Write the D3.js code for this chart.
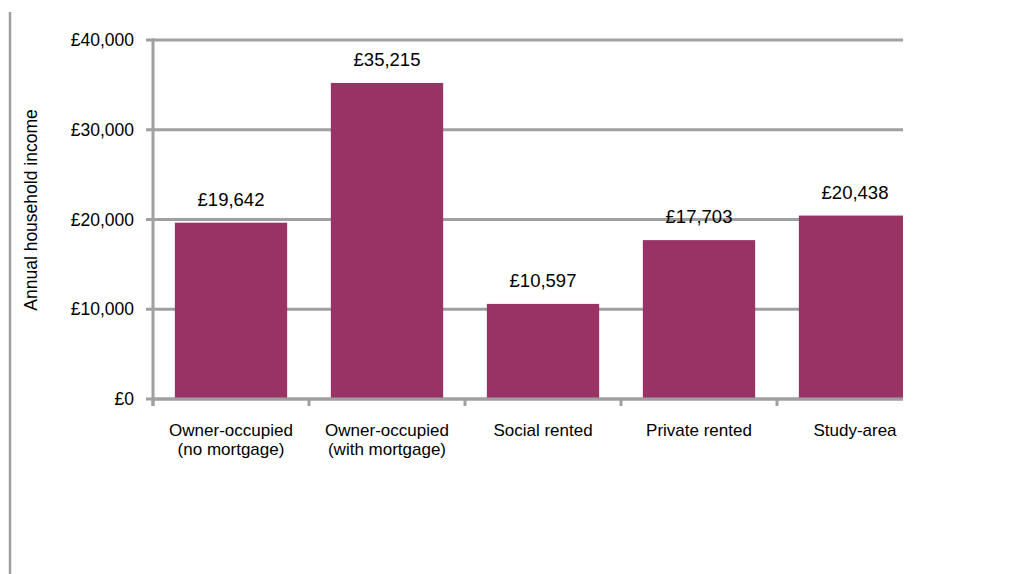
<!DOCTYPE html>
<html><head><meta charset="utf-8">
<script src="https://cdn.jsdelivr.net/npm/d3@7"></script>
<style>body{margin:0;background:#fff}svg{display:block}text{font-family:"Liberation Sans",Arial,sans-serif;fill:#000}</style>
</head><body>
<svg id="c" width="1011" height="574"></svg>
<script>
const categories = [["Owner-occupied","(no mortgage)"],["Owner-occupied","(with mortgage)"],["Social rented"],["Private rented"],["Study-area"]];
const values = [19642, 35215, 10597, 17703, 20438];
const yTicks = [0, 10000, 20000, 30000, 40000];
const yTitle = "Annual household income";

(function(){
const svg = d3.select("#c");
const grey = "#a0a0a0", bar = "#993366";
const pLeft = 153, pRight = 933, clipRight = 903, pTop = 40, pBottom = 399;

const x = d3.scaleBand().domain(d3.range(categories.length)).range([pLeft, pRight]).paddingInner(0.28).paddingOuter(0.14);
const y = d3.scaleLinear().domain([0, 40000]).range([pBottom, pTop]);
const fmt = v => "£" + d3.format(",")(v);

svg.append("defs").append("clipPath").attr("id","clip").append("rect")
  .attr("x", 0).attr("y", 0).attr("width", clipRight).attr("height", 574);

svg.append("line").attr("x1",10).attr("x2",10).attr("y1",12).attr("y2",574).attr("stroke",grey).attr("stroke-width",2.5);

const g = svg.append("g").attr("clip-path","url(#clip)");

g.selectAll(".grid").data(yTicks).join("line")
  .attr("x1", pLeft - 7).attr("x2", pRight).attr("y1", d => y(d)).attr("y2", d => y(d))
  .attr("stroke", grey).attr("stroke-width", 3);

g.selectAll(".bar").data(values).join("rect")
  .attr("x", (d,i) => x(i)).attr("width", x.bandwidth())
  .attr("y", d => y(d)).attr("height", d => y(0) - y(d)).attr("fill", bar);

g.append("line").attr("x1", pLeft).attr("x2", pRight).attr("y1", y(0)).attr("y2", y(0)).attr("stroke", grey).attr("stroke-width", 3);

const bounds = d3.range(categories.length + 1).map(i => pLeft + i * x.step());
g.selectAll(".xt").data(bounds).join("line")
  .attr("x1", d => d).attr("x2", d => d).attr("y1", y(0)).attr("y2", y(0) + 7)
  .attr("stroke", grey).attr("stroke-width", 3);

svg.append("line").attr("x1", pLeft).attr("x2", pLeft).attr("y1", pTop - 1.5).attr("y2", y(0) + 7).attr("stroke", grey).attr("stroke-width", 3);

svg.selectAll(".yl").data(yTicks).join("text")
  .attr("x", 134).attr("y", d => y(d) + 6).attr("text-anchor","end").attr("font-size", 17.5)
  .text(d => fmt(d));

g.selectAll(".vl").data(values).join("text")
  .attr("x", (d,i) => x(i) + x.bandwidth()/2).attr("y", d => y(d) - 17)
  .attr("text-anchor","middle").attr("font-size", 18.5).text(d => fmt(d));

const cl = g.selectAll(".cl").data(categories).join("text")
  .attr("text-anchor","middle").attr("font-size", 17);
cl.selectAll("tspan").data((d,i) => d.map(t => ({t, i}))).join("tspan")
  .attr("x", d => x(d.i) + x.bandwidth()/2).attr("y", (d,j) => 436 + j * 19)
  .text(d => d.t);

svg.append("text").attr("transform", "translate(37,210) rotate(-90)")
  .attr("text-anchor","middle").attr("font-size", 17.5).text(yTitle);
})();
</script>
</body></html>
